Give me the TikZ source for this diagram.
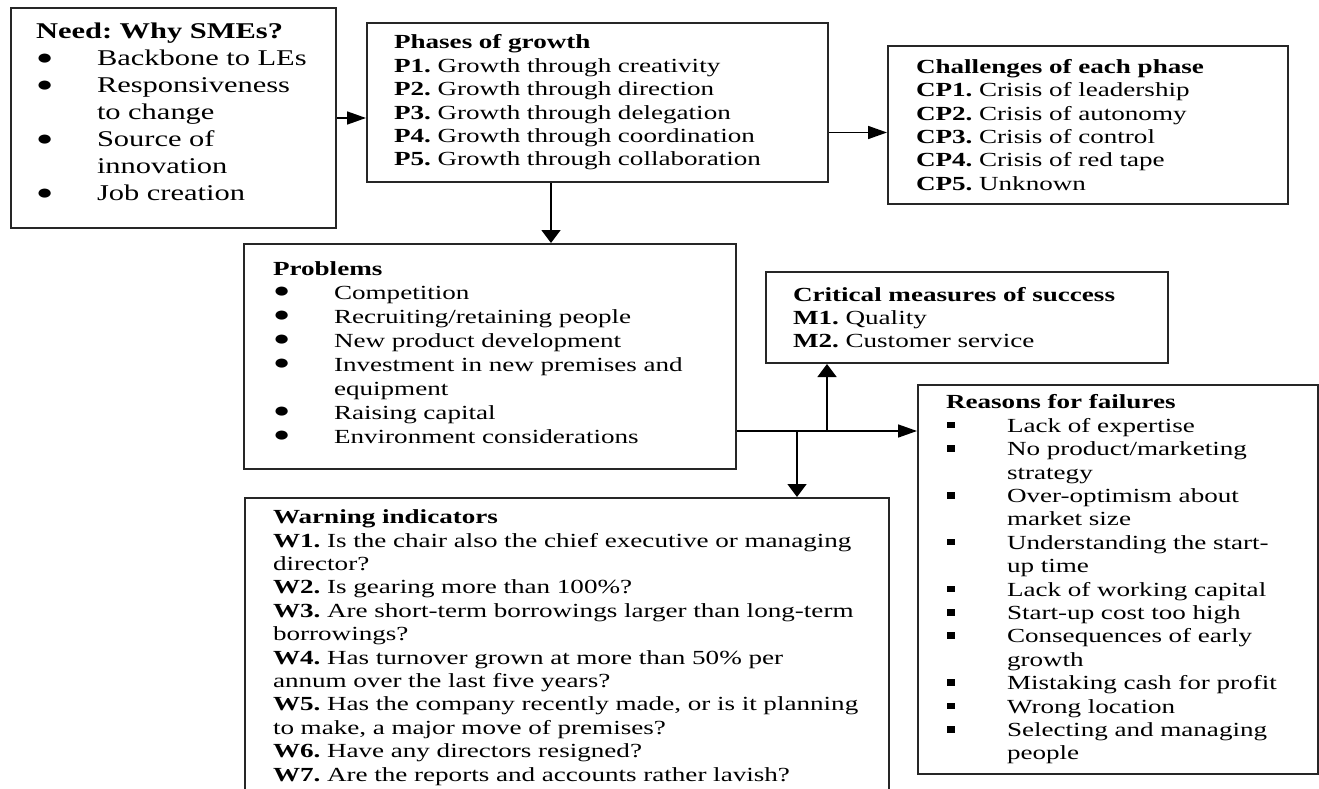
\documentclass[tikz,border=0pt]{standalone}
\usepackage{fontspec}
\setmainfont{Liberation Serif}[FakeStretch=1.355]
\usepackage{tikz}
\usetikzlibrary{arrows.meta}

\newcommand{\blt}[1]{\makebox[61pt][l]{\raisebox{1.5pt}{\fontsize{21}{21}\selectfont ●}}\mbox{#1}}
\newcommand{\sqb}[1]{\makebox[61pt][l]{\hspace{1pt}\rule[4pt]{8pt}{6.5pt}}\mbox{#1}}
\newcommand{\cnt}[1]{\hspace*{61pt}\mbox{#1}}

\begin{document}
\frenchspacing
\begin{tikzpicture}[x=1pt, y=-1pt,
    box/.style={draw=black!85, line width=2pt, anchor=north west, align=left, inner ysep=0pt, font=\fontsize{20}{23.4}\selectfont},
    harr/.style={-{Triangle[length=19pt, width=13pt]}, line width=1.6pt},
    varr/.style={-{Triangle[length=13pt, width=19pt]}, line width=1.6pt}]
  \useasboundingbox (0,0) rectangle (1319,789);

  % boxes
  \node[box, inner xsep=25pt, text width=275pt, minimum height=220pt, font=\fontsize{22.5}{27}\selectfont] (need) at (10,7) {%
    \textbf{Need: Why SMEs?}\\
    \blt{Backbone to LEs}\\
    \blt{Responsiveness}\\
    \cnt{to change}\\
    \blt{Source of}\\
    \cnt{innovation}\\
    \blt{Job creation}\rule[-12pt]{0pt}{0pt}};

  \node[box, inner xsep=27pt, text width=407pt, minimum height=159pt] (phases) at (366,22) {%
    \textbf{Phases of growth}\\
    \textbf{P1.} Growth through creativity\\
    \textbf{P2.} Growth through direction\\
    \textbf{P3.} Growth through delegation\\
    \textbf{P4.} Growth through coordination\\
    \textbf{P5.} Growth through collaboration};

  \node[box, inner xsep=28pt, text width=344pt, minimum height=158pt] (challenges) at (887,45) {%
    \textbf{Challenges of each phase}\\
    \textbf{CP1.} Crisis of leadership\\
    \textbf{CP2.} Crisis of autonomy\\
    \textbf{CP3.} Crisis of control\\
    \textbf{CP4.} Crisis of red tape\\
    \textbf{CP5.} Unknown};

  \node[box, inner xsep=29pt, text width=434pt, minimum height=225pt, font=\fontsize{20}{24}\selectfont] (problems) at (243,243) {%
    \textbf{Problems}\\
    \blt{Competition}\\
    \blt{Recruiting/retaining people}\\
    \blt{New product development}\\
    \blt{Investment in new premises and}\\
    \cnt{equipment}\\
    \blt{Raising capital}\\
    \blt{Environment considerations}\rule[-8pt]{0pt}{0pt}};

  \node[box, inner xsep=27pt, text width=348pt, minimum height=91pt] (critical) at (765,271) {%
    \textbf{Critical measures of success}\\
    \textbf{M1.} Quality\\
    \textbf{M2.} Customer service};

  \node[box, inner xsep=28pt, text width=344pt, minimum height=389pt] (reasons) at (917,384) {%
    \textbf{Reasons for failures}\\
    \sqb{Lack of expertise}\\
    \sqb{No product/marketing}\\
    \cnt{strategy}\\
    \sqb{Over-optimism about}\\
    \cnt{market size}\\
    \sqb{Understanding the start-}\\
    \cnt{up time}\\
    \sqb{Lack of working capital}\\
    \sqb{Start-up cost too high}\\
    \sqb{Consequences of early}\\
    \cnt{growth}\\
    \sqb{Mistaking cash for profit}\\
    \sqb{Wrong location}\\
    \sqb{Selecting and managing}\\
    \cnt{people}};

  \node[box, inner xsep=28pt, text width=588pt, minimum height=299pt] (warning) at (244,497) {%
    \textbf{Warning indicators}\\
    \mbox{\textbf{W1.} Is the chair also the chief executive or managing}\\
    director?\\
    \textbf{W2.} Is gearing more than 100\%?\\
    \mbox{\textbf{W3.} Are short-term borrowings larger than long-term}\\
    borrowings?\\
    \mbox{\textbf{W4.} Has turnover grown at more than 50\% per}\\
    annum over the last five years?\\
    \mbox{\textbf{W5.} Has the company recently made, or is it planning}\\
    to make, a major move of premises?\\
    \textbf{W6.} Have any directors resigned?\\
    \mbox{\textbf{W7.} Are the reports and accounts rather lavish?}};

  % connectors
  \draw[harr] (need.east) -- (need.east -| phases.west);
  \draw[harr] ([yshift=-30pt]phases.east) -- ([yshift=-30pt]phases.east -| challenges.west);
  \draw[varr] ([xshift=-46.5pt]phases.south) -- ([xshift=-46.5pt]phases.south |- problems.north);

  \coordinate (split) at ([yshift=-74.5pt]problems.east);
  \coordinate (up) at ([xshift=62pt]critical.south west);
  \coordinate (dn) at ([xshift=553pt]warning.north west);
  \draw[harr] (split) -- (split -| reasons.west);
  \draw[varr] (split -| up) -- (up);
  \draw[varr] (split -| dn) -- (dn);
\end{tikzpicture}
\end{document}
